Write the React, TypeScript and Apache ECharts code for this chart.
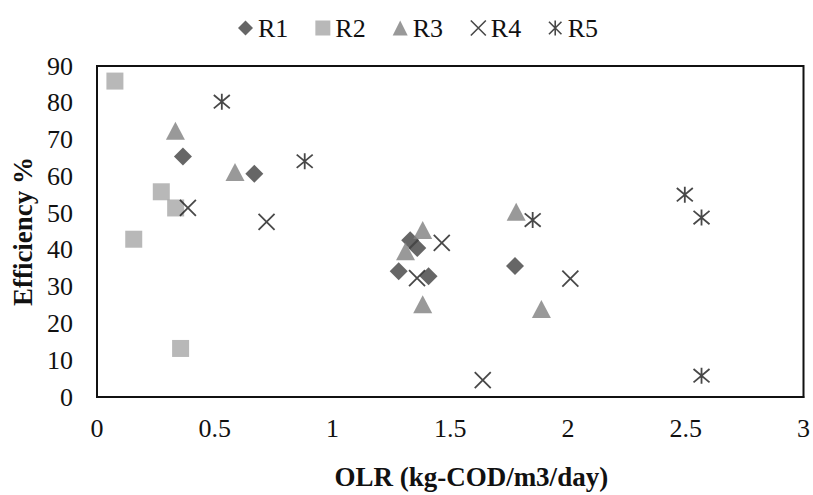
import React, { useEffect, useRef } from "react";
import * as echarts from "echarts";

const seriesNames = ["R1", "R2", "R3", "R4", "R5"];

const r1: [number, number][] = [
  [0.365, 65.4], [0.668, 60.7], [1.33, 42.6], [1.36, 40.5], [1.281, 34.2], [1.408, 32.8], [1.775, 35.6],
];
const r2: [number, number][] = [
  [0.076, 85.9], [0.273, 55.8], [0.334, 51.4], [0.156, 42.9], [0.355, 13.2],
];
const r3: [number, number][] = [
  [0.333, 72.4], [0.586, 61.2], [1.78, 50.4], [1.383, 45.4], [1.31, 39.6], [1.383, 25.2], [1.887, 23.9],
];
const r4: [number, number][] = [
  [0.386, 51.4], [0.72, 47.6], [1.464, 41.9], [1.359, 32.3], [2.01, 32.2], [1.638, 4.6],
];
const r5: [number, number][] = [
  [0.53, 80.3], [0.882, 64.1], [1.85, 48.1], [2.496, 55], [2.567, 48.8], [2.567, 5.8],
];

const xMin = 0, xMax = 3, xStep = 0.5;
const yMin = 0, yMax = 90, yStep = 10;

const FONT = "'Liberation Serif', 'Times New Roman', serif";
const X_SYM = "path://M0,0L10,10M10,0L0,10";
const AST_SYM = "path://M0,0L10,10M10,0L0,10M5,-1L5,11";

export default function App() {
  const ref = useRef<HTMLDivElement>(null);
  useEffect(() => {
    if (!ref.current) return;
    const chart = echarts.init(ref.current, undefined, { renderer: "svg" });
    const strokeItem = { color: "rgba(0,0,0,0)", borderColor: "#1a1a1a", borderWidth: 1.8 };
    chart.setOption({
      animation: false,
      backgroundColor: "#ffffff",
      textStyle: { fontFamily: FONT },
      legend: {
        top: 10,
        left: 233,
        itemWidth: 15,
        itemHeight: 15,
        itemGap: 27,
        textStyle: { fontFamily: FONT, fontSize: 26, color: "#111" },
        data: seriesNames.map((n, i) => {
          if (i === 3) return { name: n, icon: X_SYM, itemStyle: { ...strokeItem, borderWidth: 1.6 } };
          if (i === 4) return { name: n, icon: AST_SYM, itemStyle: { ...strokeItem, borderWidth: 1.6 } };
          return { name: n };
        }),
      },
      grid: {
        left: 97,
        right: 6,
        top: 66,
        bottom: 95,
        show: true,
        borderColor: "#111",
        borderWidth: 2,
        backgroundColor: "transparent",
      },
      xAxis: {
        type: "value",
        min: xMin,
        max: xMax,
        interval: xStep,
        name: "OLR (kg-COD/m3/day)",
        nameLocation: "middle",
        nameGap: 66,
        nameTextStyle: { fontFamily: FONT, fontSize: 27, fontWeight: "bold", color: "#111", padding: [0, 0, 0, 42] },
        axisLine: { show: true, lineStyle: { color: "#111", width: 2 } },
        axisTick: { show: false },
        splitLine: { show: false },
        axisLabel: { fontFamily: FONT, fontSize: 26, color: "#111", margin: 18 },
      },
      yAxis: {
        type: "value",
        min: yMin,
        max: yMax,
        interval: yStep,
        name: "Efficiency %",
        nameLocation: "middle",
        nameGap: 58,
        nameTextStyle: { fontFamily: FONT, fontSize: 27, fontWeight: "bold", color: "#111" },
        axisLine: { show: true, lineStyle: { color: "#111", width: 2 } },
        axisTick: { show: false },
        splitLine: { show: false },
        axisLabel: { fontFamily: FONT, fontSize: 26, color: "#111", margin: 24 },
      },
      series: [
        { name: "R1", type: "scatter", data: r1, symbol: "diamond", symbolSize: [18, 18], itemStyle: { color: "#404040" } },
        { name: "R2", type: "scatter", data: r2, symbol: "rect", symbolSize: 17, itemStyle: { color: "#a6a6a6" } },
        { name: "R3", type: "scatter", data: r3, symbol: "triangle", symbolSize: [19, 18], itemStyle: { color: "#7f7f7f" } },
        { name: "R4", type: "scatter", data: r4, symbol: X_SYM, symbolSize: 16, itemStyle: strokeItem },
        { name: "R5", type: "scatter", data: r5, symbol: AST_SYM, symbolSize: 16, itemStyle: strokeItem },
      ],
    });
    return () => chart.dispose();
  }, []);
  return (
    <div
      ref={ref}
      style={{ position: "absolute", left: 0, top: 0, width: 813, height: 495 }}
    />
  );
}
